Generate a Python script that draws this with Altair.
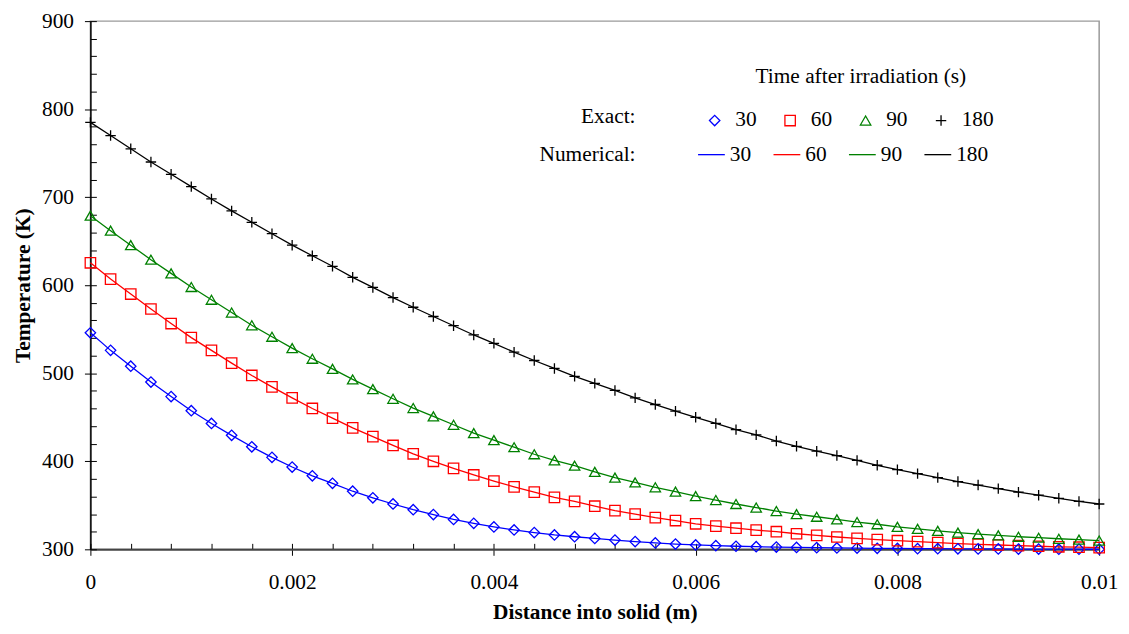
import altair as alt
import pandas as pd

# Distance into solid (m): samples every 0.0002 m
distance = [0.0, 0.0002, 0.0004, 0.0006, 0.0008, 0.001, 0.0012, 0.0014, 0.0016, 0.0018,
            0.002, 0.0022, 0.0024, 0.0026, 0.0028, 0.003, 0.0032, 0.0034, 0.0036, 0.0038,
            0.004, 0.0042, 0.0044, 0.0046, 0.0048, 0.005, 0.0052, 0.0054, 0.0056, 0.0058,
            0.006, 0.0062, 0.0064, 0.0066, 0.0068, 0.007, 0.0072, 0.0074, 0.0076, 0.0078,
            0.008, 0.0082, 0.0084, 0.0086, 0.0088, 0.009, 0.0092, 0.0094, 0.0096, 0.0098, 0.01]

t30 = [546, 526, 508, 490, 473.5, 457.5, 443, 429.5, 416.5, 404.5,
       393.5, 383.5, 375, 366, 358.5, 351.5, 345, 339.5, 334, 329.5,
       325.5, 322, 319, 316.3, 314.3, 312.4, 310.5, 308.8, 307.3, 306,
       305, 304.2, 303.5, 303, 302.6, 302.2, 301.9, 301.6, 301.4, 301.2,
       301, 300.8, 300.7, 300.6, 300.5, 300.4, 300.3, 300.3, 300.2, 300.2, 300.1]

t60 = [625.5, 607, 590, 573, 556.5, 540.5, 526, 511.5, 497.5, 484.5,
       472, 460, 449, 438, 428, 418, 408.5, 400, 392, 384.5,
       377.5, 371, 365, 359, 354.5, 349, 344, 340, 336, 332.7,
       329, 326.3, 324, 321.8, 320, 317.7, 315.8, 314, 312.5, 311,
       309.8, 308.7, 307.6, 306.6, 305.7, 304.9, 304.2, 303.5, 302.9, 302.4, 302]

t90 = [679, 662, 645.5, 629, 613.5, 598, 583.5, 569, 554.5, 541.5,
       528.5, 516.5, 505, 493, 482, 471, 460.5, 451, 441.5, 432,
       424, 416, 408, 401, 395, 388, 381.5, 376, 370.5, 365.5,
       360.5, 356, 351.5, 347.5, 343.5, 340, 337, 334, 331, 328.5,
       325.5, 323.3, 321, 319, 317.3, 315.8, 314.3, 313.2, 312, 311, 310]

t180 = [785, 770, 755, 740, 726, 712, 698, 684.5, 671.5, 658.5,
        645.5, 633.5, 621.5, 609, 597.5, 586, 575, 564.5, 554, 543.5,
        534, 524, 514.5, 505.5, 496.5, 488.5, 480.5, 472, 464.5, 457,
        450, 443, 436, 430, 423, 417, 411.5, 406.5, 401, 395.5,
        390.5, 386, 381.5, 377, 373, 369, 365, 361.5, 358, 354.5, 351.5]

times = ["30", "60", "90", "180"]
series = [t30, t60, t90, t180]
colors = ["#0000ff", "#ff0000", "#008000", "#000000"]
shapes = ["diamond", "square", "triangle-up", "M-1,0H1M0,-1V1"]

x_major = [0, 0.002, 0.004, 0.006, 0.008, 0.01]
x_minor = [0, 0.0004, 0.0008, 0.0012, 0.0016, 0.002, 0.0024, 0.0028, 0.0032, 0.0036,
           0.004, 0.0044, 0.0048, 0.0052, 0.0056, 0.006, 0.0064, 0.0068, 0.0072, 0.0076,
           0.008, 0.0084, 0.0088, 0.0092, 0.0096, 0.01]
y_major = [300, 400, 500, 600, 700, 800, 900]
y_minor = list(range(300, 901, 20))

rows = []
for tm, vals in zip(times, series):
    for xv, tv in zip(distance, vals):
        rows.append({"x": xv, "T": tv, "Exact": tm, "Numerical": tm})
df = pd.DataFrame(rows)

FONT = "Liberation Serif"
FS = 21.5

xscale = alt.Scale(domain=[0, 0.01], nice=False)
yscale = alt.Scale(domain=[300, 900], nice=False, zero=False)

x_major_axis = alt.Axis(values=x_major, format="~g", orient="bottom", grid=False,
                        domainColor="#444444", domainWidth=2, tickColor="#000000",
                        tickSize=6, tickWidth=1, labelFont=FONT, labelFontSize=FS,
                        labelColor="#000000", labelPadding=16, labelFlush=False,
                        title="Distance into solid (m)", titleFont=FONT, titleFontSize=FS,
                        titleFontWeight="bold", titleColor="#000000", titlePadding=9)
y_major_axis = alt.Axis(values=y_major, orient="left", grid=False,
                        domainColor="#000000", domainWidth=1.5, tickColor="#000000",
                        tickSize=6, tickWidth=1, labelFont=FONT, labelFontSize=FS,
                        labelColor="#000000", labelPadding=11,
                        title="Temperature (K)", titleFont=FONT, titleFontSize=FS,
                        titleFontWeight="bold", titleColor="#000000", titlePadding=7)
x_minor_axis = alt.Axis(values=x_minor, orient="bottom", grid=False, domain=False,
                        labels=False, offset=-6, tickSize=6, tickWidth=1,
                        tickColor="#000000", title="")
y_minor_axis = alt.Axis(values=y_minor, orient="left", grid=False, domain=False,
                        labels=False, offset=-6, tickSize=6, tickWidth=1,
                        tickColor="#000000", title="")

exact_legend = alt.Legend(orient="none", legendX=618, legendY=89, direction="horizontal",
                          gridAlign="all", columnPadding=12, labelOffset=10,
                          symbolSize=110, symbolStrokeWidth=1.3, labelFont=FONT,
                          labelFontSize=FS, labelColor="#000000")
num_legend = alt.Legend(orient="none", legendX=611, legendY=120, direction="horizontal",
                        gridAlign="all", columnPadding=8, labelOffset=4,
                        symbolSize=729, symbolStrokeWidth=1.3, labelFont=FONT,
                        labelFontSize=FS, labelColor="#000000")

lines = alt.Chart(df).mark_line(strokeWidth=1.3).encode(
    x=alt.X("x:Q", scale=xscale, axis=x_minor_axis),
    y=alt.Y("T:Q", scale=yscale, axis=y_minor_axis),
    color=alt.Color("Numerical:N", scale=alt.Scale(domain=times, range=colors),
                    legend=num_legend, title=None),
    detail="Numerical:N",
)

points = alt.Chart(df).mark_point(filled=False, strokeWidth=1.3, opacity=1).encode(
    x=alt.X("x:Q", scale=xscale, axis=x_major_axis),
    y=alt.Y("T:Q", scale=yscale, axis=y_major_axis),
    color=alt.Color("Exact:N", scale=alt.Scale(domain=times, range=colors),
                    legend=exact_legend, title=None),
    shape=alt.Shape("Exact:N", scale=alt.Scale(domain=times, range=shapes),
                    legend=exact_legend, title=None),
    size=alt.value(110),
)

def label(txt, px, py, align):
    return alt.Chart(pd.DataFrame({"t": [txt]})).mark_text(
        font=FONT, fontSize=FS, color="#000000", align=align, baseline="alphabetic"
    ).encode(x=alt.value(px), y=alt.value(py), text="t:N")

title_txt = label("Time after irradiation (s)", 776, 62, "center")
exact_txt = label("Exact:", 549, 103, "right")
num_txt = label("Numerical:", 549, 141, "right")

chart = alt.layer(lines, points, title_txt, exact_txt, num_txt).resolve_scale(
    color="independent", shape="independent"
).resolve_axis(x="independent", y="independent").properties(
    width=1016, height=532,
    padding={"left": 83, "top": 11, "right": 22, "bottom": 75},
    autosize=alt.AutoSizeParams(type="none"),
    background="#ffffff",
).configure_view(stroke="#9a9a9a", strokeWidth=1.5)

chart.save("out.html", embed_options={"renderer": "svg", "actions": False})
